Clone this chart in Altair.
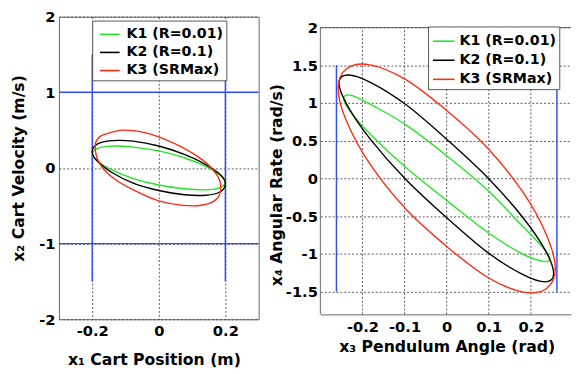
import altair as alt
import pandas as pd

FONT = "DejaVu Sans"
series_names = ["K1 (R=0.01)", "K2 (R=0.1)", "K3 (SRMax)"]
series_colors = ["#22e622", "#000000", "#ff2a12"]
BLUE = "#2f4ff5"
FRAME = "#666666"
GRID = "#444444"

# ---------------- left panel: cart position x1 vs cart velocity x2 ----------------
cart_k1_x = [0.199, 0.184, 0.141, 0.076, 0.000, -0.076, -0.141, -0.184, -0.199, -0.184, -0.141, -0.076, 0.000, 0.076, 0.141, 0.184]
cart_k1_y = [-0.189, -0.259, -0.289, -0.275, -0.225, -0.140, -0.025, 0.091, 0.189, 0.259, 0.289, 0.275, 0.225, 0.135, 0.021, -0.091]
cart_k2_x = [0.200, 0.185, 0.141, 0.077, 0.000, -0.077, -0.141, -0.185, -0.200, -0.185, -0.141, -0.077, 0.000, 0.077, 0.141, 0.185]
cart_k2_y = [-0.205, -0.314, -0.361, -0.354, -0.298, -0.200, -0.060, 0.091, 0.215, 0.314, 0.361, 0.354, 0.290, 0.180, 0.045, -0.091]
cart_k3_x = [0.186, 0.174, 0.133, 0.072, 0.000, -0.072, -0.135, -0.178, -0.191, -0.178, -0.140, -0.100, -0.027, 0.072, 0.133, 0.174]
cart_k3_y = [-0.250, -0.411, -0.489, -0.495, -0.435, -0.300, -0.140, 0.060, 0.280, 0.411, 0.475, 0.500, 0.450, 0.270, 0.100, -0.089]

cart_x_ticks = [-0.2, 0, 0.2]
cart_y_ticks = [-2, -1, 0, 1, 2]
cart_x_domain = [-0.3, 0.3]
cart_y_domain = [-2, 2]
cart_limit_y = [-1, 1]          # velocity limits (horizontal blue lines)
cart_limit_x = [-0.2, 0.2]      # position limits (vertical blue lines)
cart_limit_span = [-1.5, 1.5]

# ---------------- right panel: pendulum angle x3 vs angular rate x4 ----------------
pend_k1_x = [0.245, 0.226, 0.173, 0.094, 0.000, -0.094, -0.173, -0.226, -0.245, -0.226, -0.173, -0.094, 0.000, 0.094, 0.173, 0.226]
pend_k1_y = [-1.065, -1.095, -0.980, -0.700, -0.290, 0.132, 0.540, 0.866, 1.060, 1.100, 0.958, 0.700, 0.300, -0.140, -0.590, -0.900]
pend_k2_x = [0.254, 0.235, 0.180, 0.097, 0.000, -0.097, -0.180, -0.235, -0.256, -0.235, -0.180, -0.097, 0.000, 0.097, 0.180, 0.235]
pend_k2_y = [-1.260, -1.370, -1.271, -0.979, -0.520, -0.014, 0.511, 0.959, 1.260, 1.370, 1.271, 0.979, 0.520, 0.014, -0.511, -0.959]
pend_k3_x = [0.258, 0.237, 0.182, 0.098, 0.000, -0.098, -0.182, -0.237, -0.258, -0.237, -0.182, -0.098, 0.000, 0.098, 0.182, 0.237]
pend_k3_y = [-1.193, -1.457, -1.505, -1.312, -0.900, -0.398, 0.189, 0.748, 1.193, 1.457, 1.505, 1.312, 0.900, 0.398, -0.189, -0.748]

pend_x_ticks = [-0.2, -0.1, 0, 0.1, 0.2]
pend_y_ticks = [-1.5, -1, -0.5, 0, 0.5, 1, 1.5, 2]
pend_x_domain = [-0.3, 0.2953]
pend_y_frame = [-1.8, 2]
pend_y_domain = [-1.8, 2.143]
pend_limit_x = [-0.2618, 0.2618]   # +/- 15 degrees
pend_limit_span = [-1.5, 1.5]


def curves(xs_list, ys_list):
    rows = []
    for name, xs, ys in zip(series_names, xs_list, ys_list):
        for i, (a, b) in enumerate(zip(xs, ys)):
            rows.append({"series": name, "idx": i, "x": a, "y": b})
    return pd.DataFrame(rows)


def legend(lx, ly, sym, rowpad, symoff, laboff):
    return alt.Legend(orient="none", legendX=lx, legendY=ly, title=None,
                      strokeColor="#555555", fillColor="white", padding=3,
                      symbolType="stroke", symbolSize=sym, symbolStrokeWidth=1.6,
                      symbolOffset=symoff,
                      labelFont=FONT, labelFontSize=14.5, labelFontWeight="bold",
                      labelColor="black", labelOffset=laboff, rowPadding=rowpad,
                      cornerRadius=0)


color_scale = alt.Scale(domain=series_names, range=series_colors)

# ---- left chart ----
sxL = alt.Scale(domain=cart_x_domain, nice=False, zero=False)
syL = alt.Scale(domain=cart_y_domain, nice=False, zero=False)
axLx = alt.Axis(values=cart_x_ticks, title="x\u2081  Cart Position (m)", labelExpr="'' + datum.value",
                grid=True, ticks=False, domain=False, labelPadding=5, titlePadding=13, titleX=97)
axLy = alt.Axis(values=cart_y_ticks, title="x\u2082  Cart Velocity (m/s)", labelExpr="'' + datum.value",
                grid=True, ticks=False, domain=False, labelPadding=4, titlePadding=12)

left_curves = alt.Chart(curves([cart_k1_x, cart_k2_x, cart_k3_x],
                               [cart_k1_y, cart_k2_y, cart_k3_y])).mark_line(
    interpolate="cardinal-closed", strokeWidth=1.4).encode(
    x=alt.X("x:Q", scale=sxL, axis=axLx),
    y=alt.Y("y:Q", scale=syL, axis=axLy),
    color=alt.Color("series:N", scale=color_scale, legend=legend(34, 4, 400, 0.5, 4, 6)),
    order="idx:Q",
)

left_h = alt.Chart(pd.DataFrame({"y": cart_limit_y})).mark_rule(color=BLUE, strokeWidth=1.5).encode(
    y=alt.Y("y:Q", scale=syL, axis=axLy))
left_v = alt.Chart(pd.DataFrame({"x": cart_limit_x, "y": [cart_limit_span[0]] * 2,
                                 "y2": [cart_limit_span[1]] * 2})).mark_rule(color=BLUE, strokeWidth=1.5).encode(
    x=alt.X("x:Q", scale=sxL, axis=axLx),
    y=alt.Y("y:Q", scale=syL, axis=axLy), y2="y2:Q")

left = alt.layer(left_h, left_v, left_curves).properties(width=204, height=309)

# ---- right chart ----
sxR = alt.Scale(domain=pend_x_domain, nice=False, zero=False)
syR = alt.Scale(domain=pend_y_domain, nice=False, zero=False)
axRx = alt.Axis(values=pend_x_ticks, title="x\u2083  Pendulum Angle (rad)", labelExpr="'' + datum.value",
                grid=False, ticks=False, domain=True, domainColor=FRAME, labelPadding=6, titlePadding=4,
                titleX=129)
axRy = alt.Axis(values=pend_y_ticks, title="x\u2084  Angular Rate (rad/s)", labelExpr="'' + datum.value",
                grid=True, ticks=False, domain=False, labelPadding=3, titlePadding=1,
                titleY=171.5)

right_curves = alt.Chart(curves([pend_k1_x, pend_k2_x, pend_k3_x],
                                [pend_k1_y, pend_k2_y, pend_k3_y])).mark_line(
    interpolate="cardinal-closed", strokeWidth=1.4).encode(
    x=alt.X("x:Q", scale=sxR, axis=axRx),
    y=alt.Y("y:Q", scale=syR, axis=axRy),
    color=alt.Color("series:N", scale=color_scale, legend=legend(110, 10, 484, 0.5, 1, 4)),
    order="idx:Q",
)

# vertical grid lines, stopping at the top frame
right_grid = alt.Chart(pd.DataFrame({"x": pend_x_ticks, "y": [pend_y_frame[0]] * len(pend_x_ticks),
                                     "y2": [pend_y_frame[1]] * len(pend_x_ticks)})).mark_rule(
    color=GRID, strokeDash=[2, 2], strokeWidth=1, opacity=0.9).encode(
    x=alt.X("x:Q", scale=sxR, axis=axRx),
    y=alt.Y("y:Q", scale=syR, axis=axRy), y2="y2:Q")

right_v = alt.Chart(pd.DataFrame({"x": pend_limit_x, "y": [pend_limit_span[0]] * 2,
                                  "y2": [pend_limit_span[1]] * 2})).mark_rule(color=BLUE, strokeWidth=1.5).encode(
    x=alt.X("x:Q", scale=sxR, axis=axRx),
    y=alt.Y("y:Q", scale=syR, axis=axRy), y2="y2:Q")

right_top = alt.Chart(pd.DataFrame({"y": [pend_y_frame[1]]})).mark_rule(color=FRAME, strokeWidth=1).encode(
    y=alt.Y("y:Q", scale=syR, axis=axRy))

right_left = alt.Chart(pd.DataFrame({"x": [pend_x_domain[0]], "y": [pend_y_frame[0]],
                                     "y2": [pend_y_frame[1]]})).mark_rule(color=FRAME, strokeWidth=1).encode(
    x=alt.X("x:Q", scale=sxR, axis=axRx),
    y=alt.Y("y:Q", scale=syR, axis=axRy), y2="y2:Q")

right = alt.layer(right_grid, right_v, right_top, right_left, right_curves).properties(
    width=256, height=304, view=alt.ViewBackground(stroke="transparent"))

chart = alt.hconcat(left, right, spacing=7).resolve_scale(
    x="independent", y="independent", color="independent").properties(
    padding={"left": 2, "top": -3, "right": 0, "bottom": 0}
).configure_view(stroke=FRAME, strokeWidth=1).configure_axis(
    labelFont=FONT, labelFontSize=15, labelFontWeight="bold", labelColor="black",
    titleFont=FONT, titleFontSize=16, titleFontWeight="bold", titleColor="black",
    gridColor=GRID, gridDash=[2, 2], gridWidth=1, gridOpacity=0.9,
)

chart.save("out.html", embed_options={"renderer": "svg", "actions": False})
